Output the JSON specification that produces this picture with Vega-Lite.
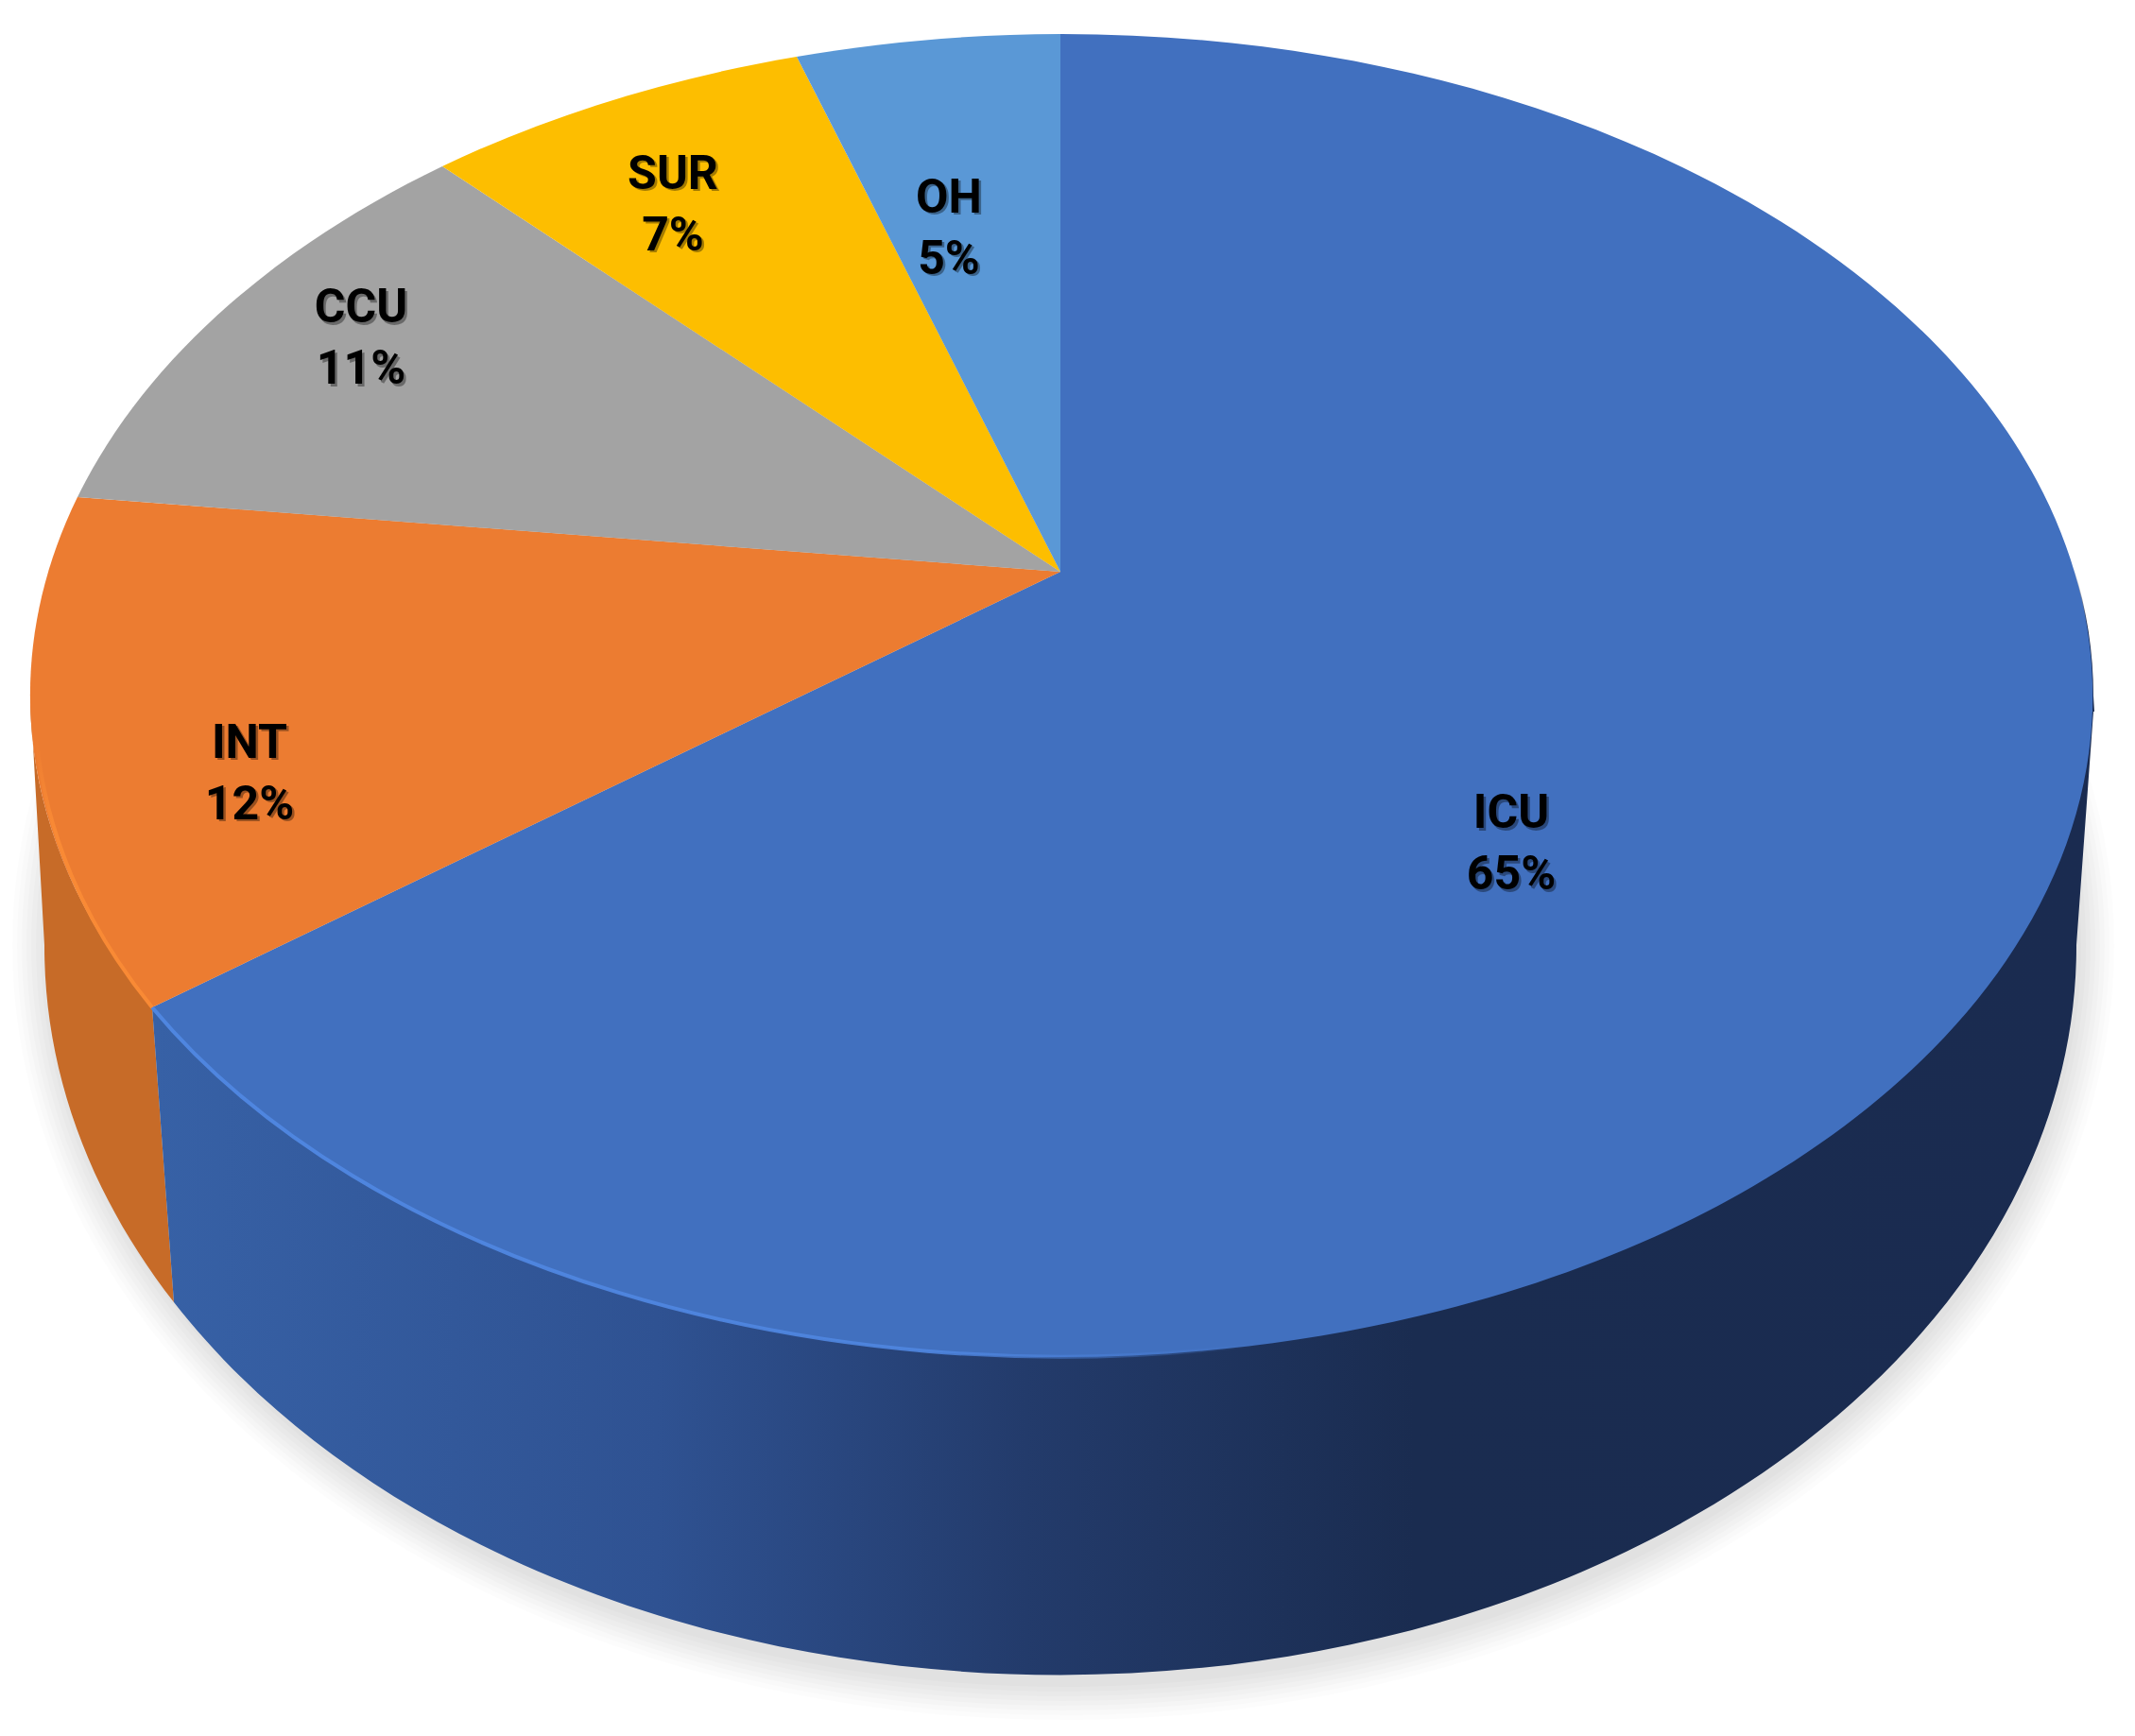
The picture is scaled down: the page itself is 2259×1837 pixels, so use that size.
{"$schema":"https://vega.github.io/schema/vega-lite/v6.json","width":2259,"height":1837,"padding":0,"autosize":{"type":"none"},"background":"#ffffff","config":{"view":{"stroke":null}},"data":{"values":[{"dept":"ICU","share":65},{"dept":"INT","share":12},{"dept":"CCU","share":11},{"dept":"SUR","share":7},{"dept":"OH","share":5}]},"transform":[{"calculate":"datum.dept + '\\n' + datum.share + '%'","as":"label"}],"layer":[
{"transform":[{"filter":"datum.dept === 'ICU'"}],"mark":{"type":"point","filled":true,"opacity":0.012,"strokeWidth":0,"fill":"#000000"},"encoding":{"size":{"value":4},"shape":{"value":"M-1116.5,81.5 A1112 820 0 1 0 1107.5,81.5 A1112 820 0 1 0 -1116.5,81.5 Z"}}},
{"transform":[{"filter":"datum.dept === 'ICU'"}],"mark":{"type":"point","filled":true,"opacity":0.013,"strokeWidth":0,"fill":"#000000"},"encoding":{"size":{"value":4},"shape":{"value":"M-1111.5,81.5 A1107 815 0 1 0 1102.5,81.5 A1107 815 0 1 0 -1111.5,81.5 Z"}}},
{"transform":[{"filter":"datum.dept === 'ICU'"}],"mark":{"type":"point","filled":true,"opacity":0.014,"strokeWidth":0,"fill":"#000000"},"encoding":{"size":{"value":4},"shape":{"value":"M-1106.5,81.5 A1102 810 0 1 0 1097.5,81.5 A1102 810 0 1 0 -1106.5,81.5 Z"}}},
{"transform":[{"filter":"datum.dept === 'ICU'"}],"mark":{"type":"point","filled":true,"opacity":0.015,"strokeWidth":0,"fill":"#000000"},"encoding":{"size":{"value":4},"shape":{"value":"M-1101.5,81.5 A1097 805 0 1 0 1092.5,81.5 A1097 805 0 1 0 -1101.5,81.5 Z"}}},
{"transform":[{"filter":"datum.dept === 'ICU'"}],"mark":{"type":"point","filled":true,"opacity":0.016,"strokeWidth":0,"fill":"#000000"},"encoding":{"size":{"value":4},"shape":{"value":"M-1096.5,81.5 A1092 800 0 1 0 1087.5,81.5 A1092 800 0 1 0 -1096.5,81.5 Z"}}},
{"transform":[{"filter":"datum.dept === 'ICU'"}],"mark":{"type":"point","filled":true,"opacity":0.016,"strokeWidth":0,"fill":"#000000"},"encoding":{"size":{"value":4},"shape":{"value":"M-1091.5,81.5 A1087 795 0 1 0 1082.5,81.5 A1087 795 0 1 0 -1091.5,81.5 Z"}}},
{"transform":[{"filter":"datum.dept === 'ICU'"}],"mark":{"type":"point","filled":true,"opacity":0.016,"strokeWidth":0,"fill":"#000000"},"encoding":{"size":{"value":4},"shape":{"value":"M-1086.5,81.5 A1082 790 0 1 0 1077.5,81.5 A1082 790 0 1 0 -1086.5,81.5 Z"}}},
{"transform":[{"filter":"datum.dept === 'ICU'"}],"mark":{"type":"point","filled":true,"opacity":0.016,"strokeWidth":0,"fill":"#000000"},"encoding":{"size":{"value":4},"shape":{"value":"M-1081.5,81.5 A1077 785 0 1 0 1072.5,81.5 A1077 785 0 1 0 -1081.5,81.5 Z"}}},
{"transform":[{"filter":"datum.dept === 'INT'"}],"mark":{"type":"point","filled":true,"opacity":1,"strokeWidth":0,"fill":"#c76b28"},"encoding":{"size":{"value":4},"shape":{"value":"M-1097.5,-182.5 L-1082.5,81.5 A1075 771 0 0 0 -945.5,459.5 L-968.5,147.5 A1091 700 0 0 1 -1097.5,-182.5 Z"}}},
{"transform":[{"filter":"datum.dept === 'ICU'"}],"mark":{"type":"point","filled":true,"opacity":1,"strokeWidth":0,"fill":{"gradient":"linear","x1":0,"y1":0,"x2":1,"y2":0,"stops":[{"offset":0,"color":"#3761a6"},{"offset":0.26,"color":"#2f5292"},{"offset":0.45,"color":"#233b6b"},{"offset":0.65,"color":"#1a2c50"},{"offset":1,"color":"#1a2b50"}]}},"encoding":{"size":{"value":4},"shape":{"value":"M-968.5,147.5 L-945.5,459.5 A1075 771 0 0 0 1067.5,81.5 L1085.5,-165.5 Z"}}},
{"transform":[{"filter":"datum.dept === 'ICU'"}],"mark":{"type":"point","filled":false,"opacity":1,"strokeWidth":2,"stroke":{"gradient":"linear","x1":0,"y1":0,"x2":0,"y2":1,"stops":[{"offset":0,"color":"rgba(26,43,80,0)"},{"offset":0.4,"color":"rgba(26,43,80,1)"},{"offset":1,"color":"rgba(26,43,80,1)"}]}},"encoding":{"size":{"value":4},"shape":{"value":"M1063.5,-318.5 A1091 700 0 0 1 1084.5,-182.5 L1085.5,-165.5"}}},
{"mark":{"type":"point","filled":true,"opacity":1,"strokeWidth":0},"encoding":{"size":{"value":4},"color":{"field":"dept","type":"nominal","legend":null,"scale":{"domain":["ICU","INT","CCU","SUR","OH"],"range":["#4170bf","#ec7c31","#a3a3a3","#fdbe00","#5a98d6"]}},"shape":{"field":"dept","type":"nominal","legend":null,"scale":{"domain":["ICU","INT","CCU","SUR","OH"],"range":["M-7.5,-313.5 L-7.5,-882.5 A1091 700 0 1 1 -968.5,147.5 Z","M-7.5,-313.5 L-968.5,147.5 A1091 700 0 0 1 -1047.5,-392.5 Z","M-7.5,-313.5 L-1047.5,-392.5 A1091 700 0 0 1 -661.5,-742.5 Z","M-7.5,-313.5 L-661.5,-742.5 A1091 700 0 0 1 -286.5,-858.5 Z","M-7.5,-313.5 L-286.5,-858.5 A1091 700 0 0 1 -7.5,-882.5 Z"]}}}},
{"transform":[{"filter":"datum.dept === 'ICU'"}],"mark":{"type":"point","filled":false,"opacity":1,"strokeWidth":4,"stroke":{"gradient":"linear","x1":0,"y1":0,"x2":1,"y2":0,"stops":[{"offset":0,"color":"rgba(79,134,224,1)"},{"offset":0.7,"color":"rgba(79,134,224,0.9)"},{"offset":1,"color":"rgba(79,134,224,0)"}]}},"encoding":{"size":{"value":4},"shape":{"value":"M-968.5,147.5 A1091 700 0 0 0 200,504.5"}}},
{"transform":[{"filter":"datum.dept === 'INT'"}],"mark":{"type":"point","filled":false,"opacity":1,"strokeWidth":4,"stroke":{"gradient":"linear","x1":0,"y1":0,"x2":0,"y2":1,"stops":[{"offset":0,"color":"rgba(249,138,53,0)"},{"offset":0.35,"color":"rgba(249,138,53,1)"},{"offset":1,"color":"rgba(249,138,53,1)"}]}},"encoding":{"size":{"value":4},"shape":{"value":"M-968.5,147.5 A1091 700 0 0 1 -1091,-140"}}},
{"mark":{"type":"text","font":"Roboto","fontWeight":"bold","fontSize":50,"align":"center","baseline":"middle","lineBreak":"\n","lineHeight":65,"color":"#000000","opacity":0.35,"dx":{"expr":"{ICU:472,INT:-863,CCU:-745,SUR:-415,OH:-123}[datum.dept]"},"dy":{"expr":"{ICU:-55,INT:-129.5,CCU:-590,SUR:-731.5,OH:-706.5}[datum.dept]"}},"encoding":{"text":{"field":"label","type":"nominal"}}},
{"mark":{"type":"text","font":"Roboto","fontWeight":"bold","fontSize":50,"align":"center","baseline":"middle","lineBreak":"\n","lineHeight":65,"color":"#000000","dx":{"expr":"{ICU:469.5,INT:-865.5,CCU:-747.5,SUR:-417.5,OH:-125.5}[datum.dept]"},"dy":{"expr":"{ICU:-57.5,INT:-132,CCU:-592.5,SUR:-734,OH:-709}[datum.dept]"}},"encoding":{"text":{"field":"label","type":"nominal"}}}
]}
